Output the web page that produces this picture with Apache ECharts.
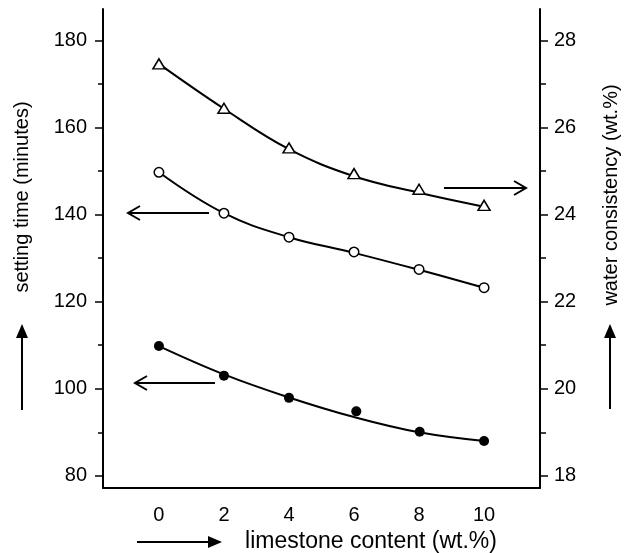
<!DOCTYPE html>
<html><head><meta charset="utf-8">
<script src="https://cdn.jsdelivr.net/npm/echarts@6/dist/echarts.min.js"></script>
<style>html,body{margin:0;padding:0;background:#fff}#c{width:626px;height:553px}</style>
</head><body><div id="c"></div>
<script>
// Data
const limestone = [0, 2, 4, 6, 8, 10];
const xTickLabels = [0, 2, 4, 6, 8, 10];
const leftTicks = [80, 100, 120, 140, 160, 180];
const leftMinor = [90, 110, 130, 150, 170];
const rightTicks = [18, 20, 22, 24, 26, 28];
const rightMinor = [19, 21, 23, 25, 27];

// water consistency (wt.%) – open triangles, right axis
const waterX = [0, 2, 4, 6, 8, 10];
const waterPts = [27.46, 26.44, 25.53, 24.94, 24.58, 24.21];
const waterFit = [27.46, 26.43, 25.50, 24.88, 24.50, 24.18];
// setting time (minutes) – open circles, left axis
const openX = [0, 2, 4, 6, 8, 10];
const openPts = [149.7, 140.3, 134.8, 131.4, 127.4, 123.2];
const openFit = [149.7, 140.3, 134.8, 131.2, 127.3, 123.2];
// setting time (minutes) – filled circles, left axis
const filledX = [0, 2, 4, 6.07, 8.02, 10];
const filledPts = [109.8, 103.0, 97.9, 94.8, 90.1, 88.0];
const filledFit = [109.8, 103.3, 98.0, 93.5, 90.0, 88.0];

const FONT = 'Liberation Sans, Arial, sans-serif';
const pair = (xs, ys) => xs.map((x, i) => [x, ys[i]]);

const chart = echarts.init(document.getElementById('c'), null, {renderer: 'canvas'});
const axLine = {show: true, onZero: false, lineStyle: {color: '#000', width: 2}};
const lbl = {color: '#000', fontSize: 20, fontFamily: FONT};

const option = {
  backgroundColor: '#fff',
  animation: false,
  grid: {left: 103, right: 86, top: 9, bottom: 65, containLabel: false},
  xAxis: {
    type: 'value', min: -1.72, max: 11.72,
    axisLine: axLine, splitLine: {show: false},
    axisTick: {show: false},
    axisLabel: Object.assign({margin: 17, customValues: xTickLabels}, lbl)
  },
  yAxis: [
    {
      type: 'value', min: 77.2, max: 187.2, position: 'left',
      axisLine: axLine, splitLine: {show: false},
      axisTick: {show: true, inside: false, length: 8, lineStyle: {color: '#000', width: 1.5}, customValues: leftTicks},
      axisLabel: Object.assign({margin: 16, customValues: leftTicks}, lbl)
    },
    {
      type: 'value', min: 77.2, max: 187.2, position: 'left',
      axisLine: {show: false, onZero: false}, splitLine: {show: false},
      axisTick: {show: true, length: 5, lineStyle: {color: '#000', width: 1.5}, customValues: leftMinor},
      axisLabel: {show: false}
    },
    {
      type: 'value', min: 17.72, max: 28.72, position: 'right',
      axisLine: axLine, splitLine: {show: false},
      axisTick: {show: true, length: 8, lineStyle: {color: '#000', width: 1.5}, customValues: rightTicks},
      axisLabel: Object.assign({margin: 14, customValues: rightTicks}, lbl)
    },
    {
      type: 'value', min: 17.72, max: 28.72, position: 'right',
      axisLine: {show: false, onZero: false}, splitLine: {show: false},
      axisTick: {show: true, length: 6, lineStyle: {color: '#000', width: 1.5}, customValues: rightMinor},
      axisLabel: {show: false}
    }
  ],
  series: [
    {type: 'line', yAxisIndex: 2, data: pair(limestone, waterFit), smooth: 0.4, showSymbol: false, lineStyle: {color: '#000', width: 2}, z: 2},
    {type: 'line', yAxisIndex: 0, data: pair(limestone, openFit), smooth: 0.4, showSymbol: false, lineStyle: {color: '#000', width: 2}, z: 2},
    {type: 'line', yAxisIndex: 0, data: pair(limestone, filledFit), smooth: 0.4, showSymbol: false, lineStyle: {color: '#000', width: 2}, z: 2},
    {type: 'scatter', yAxisIndex: 2, data: pair(waterX, waterPts), symbol: 'triangle', symbolSize: [12, 10],
     itemStyle: {color: '#fff', borderColor: '#000', borderWidth: 1.5, opacity: 1}, z: 3},
    {type: 'scatter', yAxisIndex: 0, data: pair(openX, openPts), symbol: 'circle', symbolSize: 9.5,
     itemStyle: {color: '#fff', borderColor: '#000', borderWidth: 1.5, opacity: 1}, z: 3},
    {type: 'scatter', yAxisIndex: 0, data: pair(filledX, filledPts), symbol: 'circle', symbolSize: 10,
     itemStyle: {color: '#000', opacity: 1}, z: 3}
  ]
};

const stroke = {stroke: '#000', lineWidth: 2, fill: null};
function openArrowH(x1, x2, y) { // tip at x2
  const d = x2 > x1 ? -1 : 1;
  return [
    {type: 'line', shape: {x1: x1, y1: y, x2: x2, y2: y}, style: stroke},
    {type: 'polyline', shape: {points: [[x2 + d * 12, y - 7], [x2, y], [x2 + d * 12, y + 7]]}, style: stroke}
  ];
}
function filledArrowV(x, yBottom, yTip) {
  return [
    {type: 'line', shape: {x1: x, y1: yBottom, x2: x, y2: yTip + 10}, style: stroke},
    {type: 'polygon', shape: {points: [[x, yTip], [x - 6, yTip + 14], [x + 6, yTip + 14]]}, style: {fill: '#000'}}
  ];
}
function filledArrowH(x1, xTip, y) {
  return [
    {type: 'line', shape: {x1: x1, y1: y, x2: xTip - 10, y2: y}, style: stroke},
    {type: 'polygon', shape: {points: [[xTip, y], [xTip - 14, y - 6], [xTip - 14, y + 6]]}, style: {fill: '#000'}}
  ];
}
const titleStyle = {fill: '#000', font: '20px ' + FONT, textAlign: 'center', textVerticalAlign: 'middle'};
option.graphic = [].concat(
  openArrowH(209, 128, 213),
  openArrowH(215, 135, 383),
  openArrowH(444, 526, 188),
  filledArrowV(22, 410, 324),
  filledArrowV(610, 409, 324),
  filledArrowH(137, 222, 542),
  [
    {type: 'text', x: 22, y: 197, rotation: Math.PI / 2, style: Object.assign({text: 'setting time (minutes)'}, titleStyle)},
    {type: 'text', x: 611, y: 195, rotation: Math.PI / 2, style: Object.assign({text: 'water consistency (wt.%)'}, titleStyle)},
    {type: 'text', x: 371, y: 542, style: Object.assign({text: 'limestone content (wt.%)'}, titleStyle, {font: '23px ' + FONT})}
  ]
);
chart.setOption(option);
</script></body></html>
